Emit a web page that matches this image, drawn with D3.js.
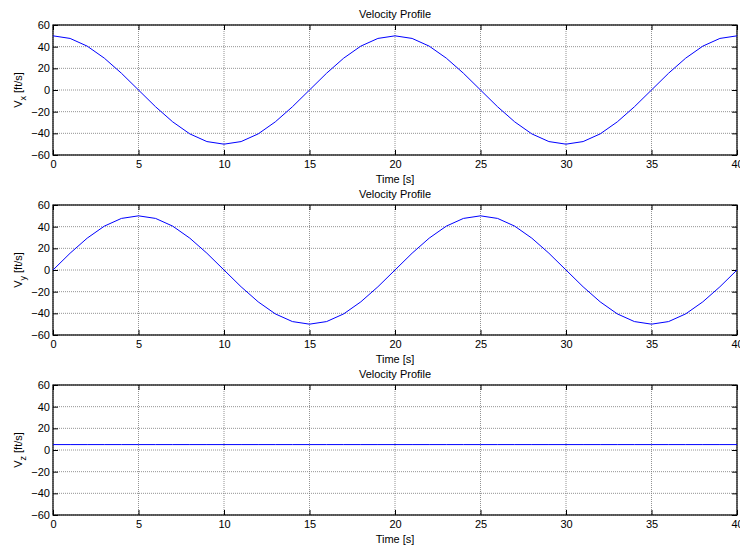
<!doctype html>
<html lang="en">
<head>
<meta charset="UTF-8">
<title>Velocity Profile</title>
<script src="https://d3js.org/d3.v7.min.js"></script>
<style>
  body { margin: 0; background: #fff; }
  text { font-family: "Liberation Sans", Arial, sans-serif; font-size: 11px; fill: #000; }
</style>
</head>
<body>
<div id="chart-area"></div>
<script>
// values, one sample per second
const time = d3.range(0, 41);
const vx = [50, 47.6, 40.5, 29.4, 15.5, 0, -15.5, -29.4, -40.5, -47.6,
            -50, -47.6, -40.5, -29.4, -15.5, 0, 15.5, 29.4, 40.5, 47.6,
            50, 47.6, 40.5, 29.4, 15.5, 0, -15.5, -29.4, -40.5, -47.6,
            -50, -47.6, -40.5, -29.4, -15.5, 0, 15.5, 29.4, 40.5, 47.6, 50];
const vy = [0, 15.5, 29.4, 40.5, 47.6, 50, 47.6, 40.5, 29.4, 15.5,
            0, -15.5, -29.4, -40.5, -47.6, -50, -47.6, -40.5, -29.4, -15.5,
            0, 15.5, 29.4, 40.5, 47.6, 50, 47.6, 40.5, 29.4, 15.5,
            0, -15.5, -29.4, -40.5, -47.6, -50, -47.6, -40.5, -29.4, -15.5, 0];
const vz = Array(41).fill(5);

const xTicks = [0, 5, 10, 15, 20, 25, 30, 35, 40];
const yTicks = [-60, -40, -20, 0, 20, 40, 60];
const labels = ['x', 'y', 'z'];
const series = [vx, vy, vz];
const tops = [25, 205, 385];

const W = 740, H = 547;
const left = 53, right = 737, plotH = 130;

const svg = d3.select('#chart-area')
    .append('svg')
    .attr('width', W)
    .attr('height', H);

const x = d3.scaleLinear().domain([0, 40]).range([left, right]);

series.forEach((vals, k) => {
    const top = tops[k];
    const y = d3.scaleLinear().domain([-60, 60]).range([top + plotH, top]);
    const g = svg.append('g');

    // grid
    g.selectAll('.gx').data(xTicks).enter().append('line')
        .attr('x1', d => x(d)).attr('x2', d => x(d))
        .attr('y1', top).attr('y2', top + plotH)
        .attr('stroke', '#777').attr('stroke-width', 0.8)
        .attr('stroke-dasharray', '1,1');
    g.selectAll('.gy').data(yTicks).enter().append('line')
        .attr('x1', left).attr('x2', right)
        .attr('y1', d => y(d)).attr('y2', d => y(d))
        .attr('stroke', '#777').attr('stroke-width', 0.8)
        .attr('stroke-dasharray', '1,1');

    // inward ticks on all sides
    g.append('g').attr('transform', `translate(0,${top + plotH})`)
        .call(d3.axisBottom(x).tickValues(xTicks).tickSize(-5).tickPadding(5).tickFormat(d3.format('d')))
        .call(a => a.select('.domain').remove());
    g.append('g').attr('transform', `translate(0,${top})`)
        .call(d3.axisTop(x).tickValues(xTicks).tickSize(-5).tickFormat(''))
        .call(a => a.select('.domain').remove());
    g.append('g').attr('transform', `translate(${left},0)`)
        .call(d3.axisLeft(y).tickValues(yTicks).tickSize(-5).tickPadding(3).tickFormat(d3.format('d')))
        .call(a => a.select('.domain').remove());
    g.append('g').attr('transform', `translate(${right},0)`)
        .call(d3.axisRight(y).tickValues(yTicks).tickSize(-5).tickFormat(''))
        .call(a => a.select('.domain').remove());
    g.selectAll('.tick text').attr('font-size', 11).attr('fill', '#000')
        .attr('font-family', '"Liberation Sans", Arial, sans-serif');
    g.selectAll('.tick line').attr('stroke', '#000');

    // box
    g.append('rect')
        .attr('x', left).attr('y', top)
        .attr('width', right - left).attr('height', plotH)
        .attr('fill', 'none').attr('stroke', '#000').attr('stroke-width', 1.2);

    // data line
    const line = d3.line().x((d, i) => x(time[i])).y(d => y(d));
    g.append('path').datum(vals)
        .attr('d', line)
        .attr('fill', 'none').attr('stroke', '#0000ff').attr('stroke-width', 1);

    // title and labels
    g.append('text').attr('x', (left + right) / 2).attr('y', top - 7)
        .attr('text-anchor', 'middle').text('Velocity Profile');
    g.append('text').attr('x', (left + right) / 2).attr('y', top + plotH + 28)
        .attr('text-anchor', 'middle').text('Time [s]');
    const yl = g.append('text')
        .attr('transform', `translate(22,${top + plotH / 2}) rotate(-90)`)
        .attr('text-anchor', 'middle');
    yl.append('tspan').text('V');
    yl.append('tspan').attr('dy', 4).attr('font-size', 9).text(labels[k]);
    yl.append('tspan').attr('dy', -4).text(' [ft/s]');
});
</script>
</body>
</html>
